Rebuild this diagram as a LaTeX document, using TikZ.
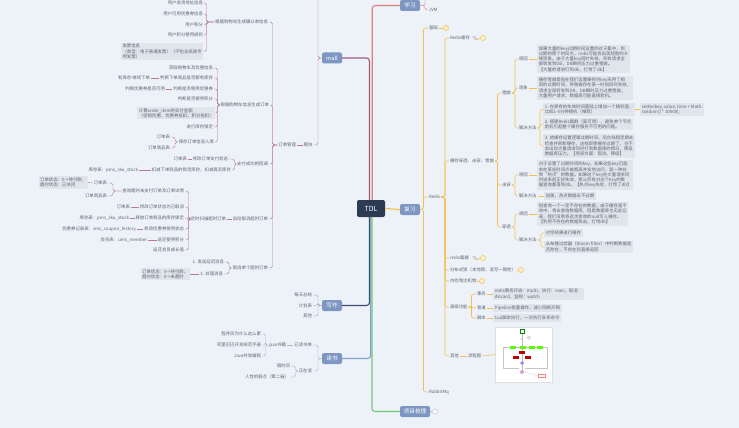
\documentclass[tikz,border=0pt]{standalone}
\usepackage{fontspec}
\setmainfont{Noto Sans CJK SC}
\usetikzlibrary{shapes.geometric}
\definecolor{bg}{HTML}{EDF1F8}
\definecolor{boxc}{HTML}{7E97C2}
\definecolor{tdlc}{HTML}{2C3A52}
\definecolor{txt}{HTML}{5E6673}
\definecolor{noteg}{HTML}{E0E4EB}
\definecolor{redc}{HTML}{E27D7F}
\definecolor{mallc}{HTML}{9E5B80}
\definecolor{malls}{HTML}{B77C9C}
\definecolor{navyc}{HTML}{3E4E70}
\definecolor{navys}{HTML}{9AA0BC}
\definecolor{bluec}{HTML}{7FA2D2}
\definecolor{blues}{HTML}{A5B7D2}
\definecolor{greenc}{HTML}{72C873}
\definecolor{yelc}{HTML}{F3C14B}
\newcommand{\LB}[4]{\coordinate (tmpb) at (#3,0);\foreach \kid in {#4}{\draw[#1] (#2.west) -- (#2.west -| tmpb) |- (\kid.east);}}
\newcommand{\RB}[4]{\coordinate (tmpb) at (#3,0);\foreach \kid in {#4}{\draw[#1] (#2.east) -- (#2.east -| tmpb) |- (\kid.west);}}
\begin{document}
\begin{tikzpicture}[x=1pt,y=-1pt,
 lf/.style={font=\fontsize{4.4}{5.3}\selectfont, text=txt, inner sep=0.8pt},
 lleaf/.style={lf, anchor=east},
 rleaf/.style={lf, anchor=west},
 nt/.style={lf, fill=noteg, align=left, inner sep=1.6pt},
 lnote/.style={nt, anchor=east},
 rnote/.style={nt, anchor=west},
 mainbox/.style={fill=boxc, text=white, rounded corners=2pt, minimum width=20pt, minimum height=11pt, inner sep=1pt, font=\fontsize{5.6}{6}\selectfont},
 trunk/.style={line width=1.1pt, rounded corners=3pt},
 mallsub/.style={draw=malls, line width=0.45pt, rounded corners=1.8pt},
 wsub/.style={draw=navys, line width=0.45pt, rounded corners=1.8pt},
 bsub/.style={draw=blues, line width=0.45pt, rounded corners=1.8pt},
 ysub/.style={draw=yelc, line width=0.55pt, rounded corners=1.8pt},
 rsub/.style={draw=redc, line width=0.45pt, rounded corners=1.8pt},
 ycirc/.style={circle, draw=yelc, fill=yelc!25, line width=0.5pt, minimum size=5pt, inner sep=0},
 lk/.style={draw=gray!70, rotate=-45, rounded corners=0.7pt, minimum width=4.5pt, minimum height=2pt, inner sep=0, line width=0.35pt},
]
\useasboundingbox (0,0) rectangle (739,428);
\fill[bg] (0,0) rectangle (739,428);

% ---------- main boxes ----------
\node[mainbox, fill=tdlc, minimum width=28pt, minimum height=17pt, font=\fontsize{7}{8}\selectfont] (tdl) at (371,208.5) {TDL};
\node[mainbox] (xx) at (410,5.5) {学习};
\node[mainbox] (fx) at (410,209.5) {复习};
\node[mainbox, minimum width=30pt] (xm) at (415,411.5) {项目梳理};
\node[mainbox] (mall) at (332,58) {mall};
\node[mainbox] (xz) at (332,305.5) {写作};
\node[mainbox] (ds) at (332,358.5) {读书};

\draw[trunk, redc] ([xshift=1.2pt]tdl.north) |- (xx.west);
\draw[trunk, mallc] ([xshift=-1.5pt]tdl.north) |- (mall.east);
\draw[trunk, navyc] ([xshift=-1.5pt]tdl.south) |- (xz.east);
\draw[trunk, bluec] ([xshift=-0.3pt]tdl.south) |- (ds.east);
\draw[trunk, greenc] ([xshift=1pt]tdl.south) |- (xm.west);
\draw[trunk, yelc] (tdl.east) -- (fx.west);

% ---------- 学习 ----------
\node[rleaf] (jvm) at (428,10) {JVM};
\node[rleaf] (jtop) at (428,-6) {};
\RB{rsub}{xx}{425}{jvm,jtop}

% ---------- mall ----------
\node[lleaf] (mk) at (313.5,145) {模块};
\node[lleaf] (mtop) at (314,-6) {};
\LB{mallsub}{mall}{318}{mk,mtop}
\node[lleaf] (ddgl) at (297,145) {订单管理};
\draw[mallsub] (mk.west) -- (ddgl.east);
\node[lleaf] (o1) at (269,22) {根据购物车生成确认单信息};
\node[lleaf] (o2) at (270,105) {根据购物车信息生成订单};
\node[lleaf] (o3) at (269,164) {支付成功的回调};
\node[lleaf] (o4) at (269,219) {自动取消超时订单};
\node[lleaf] (o5) at (269,268) {取消单个超时订单};
\LB{mallsub}{ddgl}{272.5}{o1,o2,o3,o4,o5}

\node[lleaf] (a1) at (204,3) {用户收货地址信息};
\node[lleaf] (a2) at (204,14) {用户可用优惠券信息};
\node[lleaf] (a3) at (204,25) {用户积分};
\node[lleaf] (a4) at (204,35) {用户积分使用规则};
\node[lnote] (a5) at (203.5,51.5) {发票信息\\（类型：电子普通发票）（不包含纸质专\\用发票）};
\LB{mallsub}{o1}{206.5}{a1,a2,a3,a4,a5}

\node[lleaf] (b1) at (214,68) {获取购物车及优惠信息};
\node[lleaf] (b2) at (214,78) {判断下单商品是否都有库存};
\node[lleaf] (b3) at (214,89) {判断是否使用优惠券};
\node[lleaf] (b4) at (214,99) {判断是否使用积分};
\node[lnote] (b5) at (215.5,113) {计算order\_item的实付金额\\（促销优惠、优惠券抵扣、积分抵扣）};
\node[lleaf] (b6) at (214,127) {进行库存锁定};
\node[lleaf] (b7) at (215,142) {保存订单信息入库};
\LB{mallsub}{o2}{217.5}{b1,b2,b3,b4,b5,b6,b7}
\node[lleaf] (b2l) at (151,78) {有库存 继续下单};
\draw[mallsub] (b2.west) -- (b2l.east);
\node[lleaf] (b3l) at (166,89) {判断优惠券是否可用};
\draw[mallsub] (b3.west) -- (b3l.east);
\node[lleaf] (b7a) at (171,137) {订单表};
\node[lleaf] (b7b) at (171,148) {订单商品表};
\LB{mallsub}{b7}{175}{b7a,b7b}

\node[lleaf] (c1) at (229,159) {修改订单支付状态};
\node[lleaf] (c2) at (232,170) {扣减下单商品的锁定库存，扣减真实库存};
\LB{mallsub}{o3}{234.5}{c1,c2}
\node[lleaf] (c1l) at (188,159) {订单表};
\draw[mallsub] (c1.west) -- (c1l.east);
\node[lleaf] (c2l) at (139,170) {库存表：pms\_sku\_stock};
\draw[mallsub] (c2.west) -- (c2l.east);

\node[lleaf] (d0) at (227,219) {定时扫描超时订单};
\draw[mallsub] (o4.west) -- (d0.east);
\node[lleaf] (d1) at (185,191) {查询超时未支付订单及订单详情};
\node[lleaf] (d2) at (185,207) {修改订单状态为已取消};
\node[lleaf] (d3) at (185,218) {释放订单商品的库存锁定};
\node[lleaf] (d4) at (185,229) {修改优惠券使用状态};
\node[lleaf] (d5) at (185,240) {返还使用积分};
\node[lleaf] (d6) at (185,250) {返还会员成长值};
\LB{mallsub}{d0}{188.5}{d1,d2,d3,d4,d5,d6}
\node[lleaf] (d1a) at (108,183) {订单表};
\node[lleaf] (d1b) at (108,196) {订单商品表};
\LB{mallsub}{d1}{113}{d1a,d1b}
\node[lnote] (d1al) at (88,182.5) {订单状态：0->待付款；\\超时状态：已关闭};
\draw[mallsub] (d1a.west) -- (d1al.east);
\node[lleaf] (d2l) at (131,207) {订单表};
\draw[mallsub] (d2.west) -- (d2l.east);
\node[lleaf] (d3l) at (130,218) {库存表：pms\_sku\_stock};
\draw[mallsub] (d3.west) -- (d3l.east);
\node[lleaf] (d4l) at (137,229) {优惠券记录表：sms\_coupon\_history};
\draw[mallsub] (d4.west) -- (d4l.east);
\node[lleaf] (d5l) at (148,240) {会员表：ums\_member};
\draw[mallsub] (d5.west) -- (d5l.east);

\node[lleaf] (e1) at (225,262) {1. 发送延迟消息};
\node[lleaf] (e2) at (224,274) {2. 处理消息};
\LB{mallsub}{o5}{229}{e1,e2}
\node[lnote] (e2l) at (190,274) {订单状态：0->待付款；\\超时状态：0->未超时};
\draw[mallsub] (e2.west) -- (e2l.east);

% ---------- 写作 ----------
\node[lleaf] (w1) at (313,295) {每天总结};
\node[lleaf] (w2) at (313,305.5) {计划表};
\node[lleaf] (w3) at (313,316) {其他};
\LB{wsub}{xz}{318}{w1,w2,w3}

% ---------- 读书 ----------
\node[lleaf] (r1) at (313,345) {已读书单};
\node[lleaf] (r2) at (313,371) {正在读};
\LB{bsub}{ds}{318}{r1,r2}
\node[lleaf] (r1l) at (287,345) {java书籍};
\draw[bsub] (r1.west) -- (r1l.east);
\node[lleaf] (r1a) at (262,334) {程序员为什么这么累};
\node[lleaf] (r1b) at (262,345) {阿里巴巴开发规范手册};
\node[lleaf] (r1c) at (262,356) {Java并发编程};
\LB{bsub}{r1l}{265.5}{r1a,r1b,r1c}
\node[lleaf] (r2a) at (291,366) {暗时间};
\node[lleaf] (r2b) at (290,377) {人性的弱点（第二遍）};
\LB{bsub}{r2}{295.5}{r2a,r2b}

% ---------- 项目梳理 ----------
\node[circle, draw=gray!55, fill=white, line width=0.4pt, minimum size=5pt, inner sep=0] (xmi) at (435,411.5) {};
\draw[line width=0.4pt, gray!55] (xm.east) -- (xmi.west);

% ---------- 复习 ----------
\node[rleaf] (f1) at (428,28) {基础};
\node[rleaf] (f2) at (428,197) {Redis};
\node[rleaf] (f3) at (428,392) {RabbitMq};
\RB{ysub}{fx}{423.5}{f1,f2,f3}
\node[ycirc] (f1i) at (446,28) {};
\draw[ysub] (f1.east) -- (f1i.west);

\node[rleaf] (g1) at (449,38) {Redis缓存};
\node[rleaf] (g2) at (449,161) {缓存穿透、击穿、雪崩};
\node[rleaf] (g3) at (449,258) {redis集群};
\node[rleaf] (g4) at (449,270) {分布式锁（本地锁、读写一致性）};
\node[rleaf] (g5) at (449,281) {内存淘汰机制};
\node[rleaf] (g6) at (449,307) {高级功能};
\node[rleaf] (g7) at (449,356) {其他};
\RB{ysub}{f2}{445}{g1,g2,g3,g4,g5,g6,g7}
\node[lk] (g1k) at (475,38) {};
\node[ycirc] (g1i) at (483,38) {};
\draw[ysub] (g1k.east) -- (g1i.west);
\node[lk] (g3k) at (475,258) {};
\node[ycirc] (g3i) at (483,258) {};
\draw[ysub] (g3k.east) -- (g3i.west);
\node[ycirc] (g4i) at (521,270) {};
\draw[ysub] (g4.east) -- (g4i.west);
\node[ycirc] (g5i) at (482,281) {};
\draw[ysub] (g5.east) -- (g5i.west);

% 雪崩 / 击穿 / 穿透
\node[rleaf] (h1) at (501,93) {雪崩};
\node[rleaf] (h2) at (501,185) {击穿};
\node[rleaf] (h3) at (501,227) {穿透};
\RB{ysub}{g2}{497.5}{h1,h2,h3}

\node[rleaf] (h1a) at (518,59) {原因};
\node[rleaf] (h1b) at (518,88) {现象};
\node[rleaf] (h1c) at (518,128) {解决方法};
\RB{ysub}{h1}{515}{h1a,h1b,h1c}
\node[rnote] (h1an) at (537,59) {如果大量的key过期时间设置的过于集中，到\\过期的那个时间点，redis可能会出现短暂的卡\\顿现象。由于大量key同时失效，所有请求全\\部转发到DB，DB瞬时压力过重雪崩。\\【大量的请求打到db，打垮了db】};
\draw[ysub] (h1a.east) -- (h1an.west);
\node[rnote] (h1bn) at (537,88) {缓存雪崩是指在我们设置缓存时key采用了相\\同的过期时间，导致缓存在某一时刻同时失效，\\请求全部转发到DB，DB瞬时压力过重雪崩，\\大量用户请求，数据库可能直接宕机。};
\draw[ysub] (h1b.east) -- (h1bn.west);
\node[rnote] (h1c1) at (543,109.5) {1. 在原有的失效时间基础上增加一个随机值，\\比如1-5分钟随机（推荐）};
\node[rnote] (h1c2) at (543,124) {2. 搭建Redis集群（高可用），避免单个节点\\宕机引起整个缓存服务不可用的问题。};
\node[rnote] (h1c3) at (543,146) {3. 给缓存设置逻辑过期时间，后台线程定期去\\检查并刷新缓存，这样即使缓存过期了，也不\\会出现大量请求同时打到数据库的情况，降低\\数据库压力。【兜底方案：限流、降级】};
\RB{ysub}{h1c}{540}{h1c1,h1c2,h1c3}
\node[rnote] (h1c1r) at (640,109.5) {setNx(key, value, time + Math.\\random() * 10000);};
\draw[ysub] (h1c1.east) -- (h1c1r.west);

\node[rleaf] (h2a) at (518,175) {原因};
\node[rleaf] (h2b) at (518,196) {解决方法};
\RB{ysub}{h2}{515}{h2a,h2b}
\node[rnote] (h2an) at (537,175) {对于设置了过期时间的key，如果这些key可能\\会在某些时间点被超高并发地访问，是一种非\\常“热点”的数据。如果这个key在大量请求同\\时进来前正好失效，那么所有对这个key的数\\据查询都落到db。【热点key失效，打垮了db】};
\draw[ysub] (h2a.east) -- (h2an.west);
\node[rnote] (h2bn) at (544,196) {加锁，热点数据永不过期};
\draw[ysub] (h2b.east) -- (h2bn.west);

\node[rleaf] (h3a) at (518,214) {原因};
\node[rleaf] (h3b) at (518,240) {解决方法};
\RB{ysub}{h3}{515}{h3a,h3b}
\node[rnote] (h3an) at (537,214) {指查询一个一定不存在的数据，由于缓存是不\\命中，将去查询数据库，但是数据库也无此记\\录，我们没有将这次查询的null写入缓存。\\【利用不存在的数据攻击，打垮db】};
\draw[ysub] (h3a.east) -- (h3an.west);
\node[rnote] (h3b1) at (544,233) {对空结果进行缓存};
\node[rnote] (h3b2) at (544,247) {从布隆过滤器（bloom filter）中判断数据是\\否存在，不存在则直接返回};
\RB{ysub}{h3b}{541}{h3b1,h3b2}

% 高级功能
\node[rleaf] (k1) at (476,294) {事务};
\node[rleaf] (k2) at (476,308) {管道};
\node[rleaf] (k3) at (476,318) {脚本};
\RB{ysub}{g6}{471.5}{k1,k2,k3}
\node[rnote] (k1n) at (493,294) {redis事务开启：multi，执行：exec，取消：\\discard，监视：watch};
\draw[ysub] (k1.east) -- (k1n.west);
\node[rnote] (k2n) at (493,308) {Pipeline批量操作，减少网络开销};
\draw[ysub] (k2.east) -- (k2n.west);
\node[rnote] (k3n) at (493,318) {Lua脚本执行，一次执行多条命令};
\draw[ysub] (k3.east) -- (k3n.west);

% 其他 + image
\node[rleaf] (g7a) at (467,356) {流程图};
\draw[ysub] (g7.east) -- (g7a.west);
\node[draw=gray!25, fill=white, minimum width=57pt, minimum height=55pt, inner sep=0, anchor=west] (img) at (495,354.5) {};
\draw[ysub] (g7a.east) -- (img.west);
\draw[gray!55, line width=0.25pt] (522,333) -- (522,370);
\draw[gray!55, line width=0.25pt] (513,347) -- (540,347);
\draw[gray!45, line width=0.25pt] (510,347) -- (503,347) -- (503,368) -- (519,368);
\draw[gray!45, line width=0.25pt] (540,347) -- (547,347) -- (547,368) -- (525,368);
\draw[gray!45, line width=0.25pt] (525,372) -- (538,376);
\draw[green!55!black, fill=white, line width=0.25pt] (520,329.5) rectangle (524,333);
\fill[gray!45] (522,339) circle (1.2pt);
\draw[gray!60, line width=0.25pt] (529,337.5) circle (1.6pt);
\foreach \gx in {513,523,532,540}{\fill[green!65!yellow] (\gx-3,345.5) rectangle (\gx+3,348.5);}
\fill[red!75!black] (519,350.5) rectangle (525,353.5);
\fill[red!75!black] (513,355.5) rectangle (519,358.5);
\fill[red!75!black] (525,355.5) rectangle (531,358.5);
\fill[blue!45] (522,361) -- (524,363) -- (522,365) -- (520,363) -- cycle;
\fill[violet!35] (522,372) circle (2pt);
\draw[red!50, line width=0.25pt] (538,374.5) rectangle (545,377.5);
\end{tikzpicture}
\end{document}
